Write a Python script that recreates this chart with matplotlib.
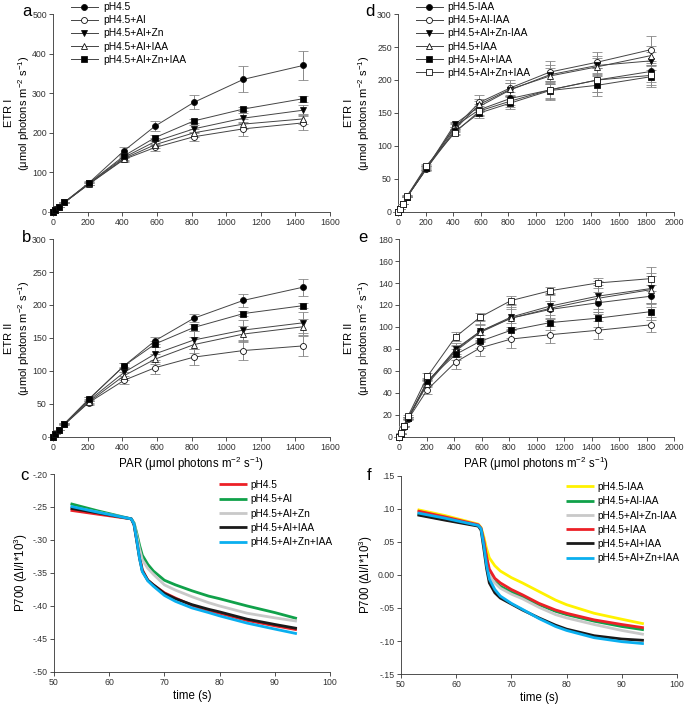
import numpy as np
import matplotlib
matplotlib.use("Agg")
import matplotlib.pyplot as plt
from matplotlib.ticker import FuncFormatter

plt.rcParams['font.family'] = ['Liberation Sans', 'DejaVu Sans']
plt.rcParams['mathtext.fontset'] = 'custom'
plt.rcParams['mathtext.rm'] = 'Liberation Sans'
plt.rcParams['mathtext.it'] = 'Liberation Sans'

# ---- light response curves (a, b) ----
par_ab = [0, 11, 35, 66, 206, 411, 590, 814, 1100, 1444]
names_ab = ['pH4.5', 'pH4.5+Al', 'pH4.5+Al+Zn', 'pH4.5+Al+IAA', 'pH4.5+Al+Zn+IAA']

etr1_a = [
    [0, 7, 13, 25, 73, 155, 217, 277, 335, 370],
    [0, 6, 12, 24, 70, 133, 163, 190, 210, 225],
    [0, 6, 12, 24, 72, 138, 178, 210, 237, 257],
    [0, 6, 12, 24, 70, 135, 170, 200, 222, 235],
    [0, 6, 12, 24, 72, 142, 188, 230, 260, 286],
]
err1_a = [
    [0, 0, 0, 1, 4, 9, 13, 18, 33, 36],
    [0, 0, 0, 1, 3, 6, 9, 12, 17, 17],
    [0, 0, 0, 1, 3, 6, 8, 10, 12, 12],
    [0, 0, 0, 1, 3, 6, 8, 10, 12, 12],
    [0, 0, 0, 1, 3, 5, 6, 6, 6, 8],
]
etr2_b = [
    [0, 4, 10, 20, 57, 108, 146, 180, 207, 227],
    [0, 4, 10, 19, 52, 86, 105, 121, 131, 138],
    [0, 4, 10, 20, 55, 98, 126, 147, 162, 173],
    [0, 4, 10, 19, 53, 93, 118, 140, 156, 167],
    [0, 4, 10, 20, 57, 108, 141, 166, 187, 199],
]
err2_b = [
    [0, 0, 0, 1, 3, 4, 5, 6, 10, 13],
    [0, 0, 0, 1, 3, 6, 9, 12, 15, 15],
    [0, 0, 0, 1, 3, 8, 10, 13, 15, 16],
    [0, 0, 0, 1, 3, 6, 8, 12, 12, 12],
    [0, 0, 0, 1, 3, 4, 5, 5, 4, 4],
]

# ---- light response curves (d, e) ----
par_de = [0, 11, 35, 66, 206, 411, 590, 814, 1100, 1444, 1833]
names_de = ['pH4.5-IAA', 'pH4.5+Al-IAA', 'pH4.5+Al+Zn-IAA', 'pH4.5+IAA',
            'pH4.5+Al+IAA', 'pH4.5+Al+Zn+IAA']
etr1_d = [
    [0, 5, 12, 23, 65, 130, 155, 172, 185, 200, 213],
    [0, 5, 12, 24, 68, 128, 166, 188, 212, 227, 246],
    [0, 5, 12, 23, 66, 133, 160, 185, 208, 222, 229],
    [0, 5, 12, 23, 66, 125, 163, 186, 206, 220, 237],
    [0, 5, 12, 23, 66, 122, 150, 165, 184, 192, 205],
    [0, 5, 12, 24, 70, 120, 153, 168, 185, 200, 207],
]
err1_d = [
    [0, 0, 0, 1, 3, 5, 8, 10, 14, 18, 16],
    [0, 0, 0, 1, 3, 5, 11, 12, 17, 16, 20],
    [0, 0, 0, 1, 3, 4, 8, 10, 14, 14, 14],
    [0, 0, 0, 1, 3, 4, 8, 10, 12, 14, 15],
    [0, 0, 0, 1, 3, 4, 7, 9, 15, 17, 16],
    [0, 0, 0, 1, 3, 4, 7, 9, 12, 18, 15],
]
etr2_e = [
    [0, 3, 10, 17, 50, 79, 96, 108, 116, 122, 128],
    [0, 3, 9, 16, 43, 68, 81, 89, 93, 97, 102],
    [0, 3, 10, 17, 49, 80, 96, 109, 119, 128, 135],
    [0, 3, 10, 17, 48, 78, 95, 108, 117, 126, 134],
    [0, 3, 10, 17, 51, 75, 87, 97, 104, 108, 114],
    [0, 4, 10, 19, 55, 91, 109, 124, 133, 140, 144],
]
err2_e = [
    [0, 0, 0, 1, 3, 5, 6, 8, 8, 10, 10],
    [0, 0, 0, 1, 4, 6, 7, 8, 8, 8, 7],
    [0, 0, 0, 1, 3, 5, 10, 12, 12, 14, 14],
    [0, 0, 0, 1, 3, 5, 8, 10, 12, 12, 12],
    [0, 0, 0, 1, 3, 5, 6, 7, 7, 8, 8],
    [0, 0, 0, 1, 3, 4, 4, 4, 3, 5, 11],
]

# ---- P700 traces (c, f) ----
t = [53, 58, 64, 64.5, 65, 65.5, 66, 67, 68, 70, 72, 75, 78, 80, 85, 90, 94]
names_c = ['pH4.5', 'pH4.5+Al', 'pH4.5+Al+Zn', 'pH4.5+Al+IAA', 'pH4.5+Al+Zn+IAA']
colors_c = ['#ec2027', '#10a14a', '#c9c9c9', '#1a1a1a', '#0aafef']
p700_c = [
    [-0.255, -0.261, -0.268, -0.276, -0.300, -0.325, -0.345, -0.361, -0.368, -0.380, -0.388, -0.399, -0.407, -0.411, -0.422, -0.430, -0.436],
    [-0.245, -0.256, -0.268, -0.274, -0.290, -0.308, -0.323, -0.337, -0.347, -0.361, -0.368, -0.377, -0.385, -0.389, -0.400, -0.410, -0.419],
    [-0.250, -0.258, -0.268, -0.275, -0.294, -0.314, -0.330, -0.343, -0.352, -0.368, -0.376, -0.386, -0.395, -0.400, -0.411, -0.418, -0.423],
    [-0.252, -0.259, -0.268, -0.277, -0.302, -0.328, -0.347, -0.361, -0.368, -0.381, -0.389, -0.398, -0.405, -0.409, -0.420, -0.428, -0.434],
    [-0.249, -0.258, -0.268, -0.276, -0.301, -0.328, -0.348, -0.362, -0.370, -0.384, -0.393, -0.403, -0.410, -0.415, -0.426, -0.435, -0.442],
]
names_f = ['pH4.5-IAA', 'pH4.5+Al-IAA', 'pH4.5+Al+Zn-IAA', 'pH4.5+IAA',
           'pH4.5+Al+IAA', 'pH4.5+Al+Zn+IAA']
colors_f = ['#fff200', '#10a14a', '#c9c9c9', '#ec2027', '#1a1a1a', '#0aafef']
p700_f = [
    [0.099, 0.090, 0.077, 0.072, 0.058, 0.040, 0.026, 0.014, 0.006, -0.004, -0.012, -0.025, -0.038, -0.045, -0.058, -0.067, -0.074],
    [0.092, 0.084, 0.075, 0.070, 0.050, 0.025, 0.004, -0.010, -0.017, -0.026, -0.033, -0.045, -0.055, -0.060, -0.070, -0.078, -0.083],
    [0.095, 0.087, 0.076, 0.070, 0.050, 0.022, 0.001, -0.012, -0.020, -0.029, -0.036, -0.049, -0.060, -0.065, -0.075, -0.084, -0.090],
    [0.097, 0.088, 0.076, 0.071, 0.052, 0.028, 0.009, -0.005, -0.012, -0.022, -0.030, -0.043, -0.053, -0.058, -0.068, -0.075, -0.080],
    [0.091, 0.083, 0.074, 0.068, 0.040, 0.010, -0.012, -0.027, -0.035, -0.044, -0.053, -0.065, -0.076, -0.082, -0.092, -0.097, -0.099],
    [0.094, 0.086, 0.075, 0.070, 0.045, 0.015, -0.006, -0.022, -0.032, -0.043, -0.052, -0.066, -0.078, -0.084, -0.095, -0.101, -0.104],
]

markers_ab = [('o', 'k'), ('o', 'w'), ('v', 'k'), ('^', 'w'), ('s', 'k')]
markers_de = [('o', 'k'), ('o', 'w'), ('v', 'k'), ('^', 'w'), ('s', 'k'), ('s', 'w')]

AXC = '#333333'
TICK = 6.3
LAB = 8.3
LEG = 7.4


def style(ax):
    for s in ['top', 'right']:
        ax.spines[s].set_visible(False)
    for s in ['left', 'bottom']:
        ax.spines[s].set_color(AXC)
        ax.spines[s].set_linewidth(0.6)
    ax.tick_params(direction='out', length=3, width=0.6, colors=AXC,
                   labelsize=TICK, pad=1.5)


def dotfmt(v, pos):
    if abs(v) < 1e-9:
        return '0.00'
    s = '%.2f' % v
    return s.replace('0.', '.', 1)


def lrc(ax, x, ys, es, marks, names, legend):
    for y, e, (m, fc), nm in zip(ys, es, marks, names):
        ax.errorbar(x, y, yerr=e, color='#444444', ecolor='#888888', lw=0.7,
                    elinewidth=0.7, capsize=3.5, capthick=0.7, marker=m, ms=4.3,
                    mfc=fc, mec='#111111', mew=0.6, label=nm, clip_on=False,
                    zorder=3)
    if legend:
        h, l = ax.get_legend_handles_labels()
        h = [hh[0] for hh in h]
        ax.legend(h, l, loc='upper left', bbox_to_anchor=(0.05, 1.08),
                  frameon=False, fontsize=LEG, handlelength=2.6,
                  labelspacing=0.3, handletextpad=0.5, borderaxespad=0)


def umol():
    return r'($\mu$mol photons m$^{-2}$ s$^{-1}$)'


def etr_label(ax, name, x1, x2):
    # two stacked rotated lines, x in figure pixels
    pos = ax.get_position()
    yc = pos.y0 + pos.height / 2
    fig.text(x1 / 685, yc, name, rotation=90, ha='center', va='center',
             fontsize=8)
    fig.text(x2 / 685, yc, umol(), rotation=90, ha='center', va='center',
             fontsize=8)


fig = plt.figure(figsize=(6.85, 7.04), dpi=100)

ax_a = fig.add_axes([0.0774, 0.6989, 0.4044, 0.2812])
ax_b = fig.add_axes([0.0774, 0.3793, 0.4044, 0.2812])
ax_c = fig.add_axes([0.0788, 0.0455, 0.4030, 0.2812])
ax_d = fig.add_axes([0.5810, 0.6989, 0.4030, 0.2812])
ax_e = fig.add_axes([0.5825, 0.3793, 0.4015, 0.2812])
ax_f = fig.add_axes([0.5854, 0.0426, 0.4029, 0.2813])

lrc(ax_a, par_ab, etr1_a, err1_a, markers_ab, names_ab, True)
lrc(ax_b, par_ab, etr2_b, err2_b, markers_ab, names_ab, False)
lrc(ax_d, par_de, etr1_d, err1_d, markers_de, names_de, True)
lrc(ax_e, par_de, etr2_e, err2_e, markers_de, names_de, False)

for ax in (ax_a, ax_b):
    ax.set_xlim(0, 1600)
    ax.set_xticks(range(0, 1601, 200))
for ax in (ax_d, ax_e):
    ax.set_xlim(0, 2000)
    ax.set_xticks(range(0, 2001, 200))
ax_a.set_ylim(0, 500)
ax_a.set_yticks(range(0, 501, 100))
ax_b.set_ylim(0, 300)
ax_b.set_yticks(range(0, 301, 50))
ax_d.set_ylim(0, 300)
ax_d.set_yticks(range(0, 301, 50))
ax_e.set_ylim(0, 180)
ax_e.set_yticks(range(0, 181, 20))

etr_label(ax_a, 'ETR I', 9, 24)
etr_label(ax_b, 'ETR II', 9, 24)
etr_label(ax_d, 'ETR I', 349, 364)
etr_label(ax_e, 'ETR II', 349, 364)
ax_b.set_xlabel('PAR ' + umol(), fontsize=LAB, labelpad=2)
ax_e.set_xlabel('PAR ' + umol(), fontsize=LAB, labelpad=2)

for y, c, nm in zip(p700_c, colors_c, names_c):
    ax_c.plot(t, y, color=c, lw=2.0, label=nm, solid_capstyle='butt')
for y, c, nm in zip(p700_f, colors_f, names_f):
    ax_f.plot(t, y, color=c, lw=2.0, label=nm, solid_capstyle='butt')

ax_c.set_xlim(50, 100)
ax_c.set_ylim(-0.50, -0.20)
ax_c.set_yticks(np.arange(-0.50, -0.199, 0.05))
ax_f.set_xlim(50, 100)
ax_f.set_ylim(-0.15, 0.15)
ax_f.set_yticks(np.arange(-0.15, 0.151, 0.05))
for ax in (ax_c, ax_f):
    ax.set_xticks(range(50, 101, 10))
    ax.yaxis.set_major_formatter(FuncFormatter(dotfmt))
    ax.set_xlabel('time (s)', fontsize=LAB, labelpad=2)
    ax.set_ylabel(r'P700 ($\Delta$I/I$*$10$^3$)', fontsize=LAB, labelpad=2)
    ax.legend(loc='upper right', bbox_to_anchor=(1.025, 0.99), frameon=False,
              fontsize=7.3, handlelength=2.7, labelspacing=0.42,
              handletextpad=0.4, borderaxespad=0)

for ax in (ax_a, ax_b, ax_c, ax_d, ax_e, ax_f):
    style(ax)

fig.text(27 / 685, 1 - 12 / 704, 'a', fontsize=12, ha='center', va='center')
fig.text(27 / 685, 1 - 237 / 704, 'b', fontsize=12, ha='center', va='center')
fig.text(24 / 685, 1 - 475 / 704, 'c', fontsize=12, ha='center', va='center')
fig.text(370 / 685, 1 - 11 / 704, 'd', fontsize=12, ha='center', va='center')
fig.text(363 / 685, 1 - 237 / 704, 'e', fontsize=12, ha='center', va='center')
fig.text(369 / 685, 1 - 475 / 704, 'f', fontsize=12, ha='center', va='center')

fig.savefig('out.png', dpi=100)
